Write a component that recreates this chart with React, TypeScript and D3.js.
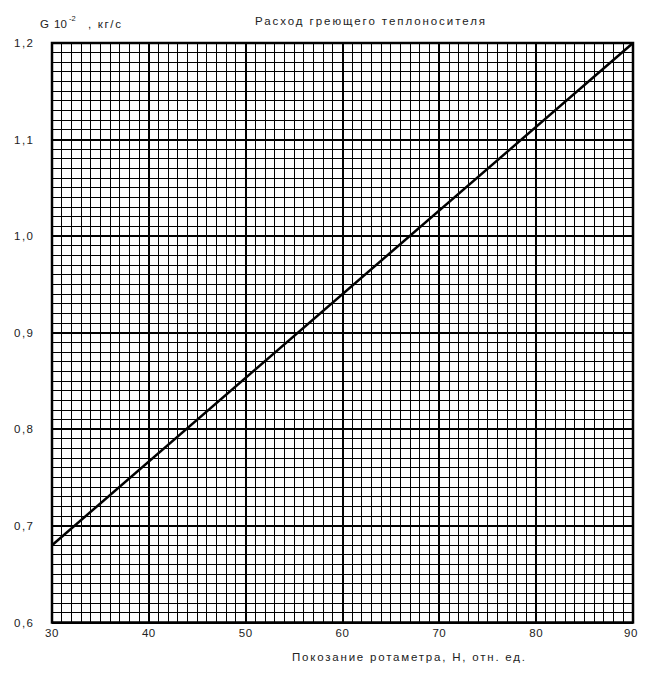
import React from "react";
import * as d3 from "d3";

const xTicks = [30, 40, 50, 60, 70, 80, 90];
const yTicks = [0.6, 0.7, 0.8, 0.9, 1.0, 1.1, 1.2];
const yTickLabels = ["0,6", "0,7", "0,8", "0,9", "1,0", "1,1", "1,2"];
const lineX = [30, 90];
const lineY = [0.68, 1.2];
const title = "Расход греющего теплоносителя";
const xTitle = "Покозание ротаметра, Н, отн. ед.";

export default function App() {
  const W = 653, H = 681;
  const x = d3.scaleLinear().domain([30, 90]).range([52, 633]);
  const y = d3.scaleLinear().domain([0.6, 1.2]).range([622.5, 43]);
  const minorX = d3.range(30, 91, 1);
  const minorY = d3.range(0, 61, 1).map((i) => 0.6 + i * 0.01);
  const line = d3.line<number>().x((_, i) => x(lineX[i])).y((d) => y(d));
  const font = "Liberation Sans, Arial, sans-serif";
  return (
    <svg width={W} height={H} style={{ position: "absolute", left: 0, top: 0, background: "#fff" }}>
      <rect width={W} height={H} fill="#fff" />
      {minorX.map((v) => (
        <line key={"mx" + v} x1={x(v)} x2={x(v)} y1={y(0.6)} y2={y(1.2)} stroke="#000"
          strokeWidth={v % 10 === 0 ? 2 : 1} shapeRendering="crispEdges" />
      ))}
      {minorY.map((v, i) => (
        <line key={"my" + i} x1={x(30)} x2={x(90)} y1={y(v)} y2={y(v)} stroke="#000"
          strokeWidth={i % 10 === 0 ? 2 : 1} shapeRendering="crispEdges" />
      ))}
      <rect x={x(30)} y={y(1.2)} width={x(90) - x(30)} height={y(0.6) - y(1.2)} fill="none" stroke="#000" strokeWidth={2.5} />
      <path d={line(lineY) || ""} fill="none" stroke="#000" strokeWidth={2.5} />
      {yTicks.map((v, i) => (
        <text key={"yt" + i} x={14} y={y(v) + 4} fontFamily={font} fontSize={11.5} fill="#222"
          textLength={19} lengthAdjust="spacing">{yTickLabels[i]}</text>
      ))}
      {xTicks.map((v) => (
        <text key={"xt" + v} x={v === 90 ? x(v) - 2 : x(v)} y={637} fontFamily={font} fontSize={11.5} fill="#222"
          textAnchor="middle" letterSpacing={0.5}>{v}</text>
      ))}
      <text x={255} y={25} fontFamily={font} fontSize={11.5} fill="#222" textLength={230} lengthAdjust="spacing">{title}</text>
      <text x={292} y={661} fontFamily={font} fontSize={11.5} fill="#222" textLength={233} lengthAdjust="spacing">{xTitle}</text>
      <text x={40} y={28} fontFamily={font} fontSize={11.5} fill="#222">G</text>
      <text x={54} y={28} fontFamily={font} fontSize={11.5} fill="#222">10</text>
      <text x={69} y={21} fontFamily={font} fontSize={7.5} fill="#222">-2</text>
      <text x={88} y={28} fontFamily={font} fontSize={11.5} fill="#222" textLength={33} lengthAdjust="spacing">, кг/с</text>
    </svg>
  );
}
